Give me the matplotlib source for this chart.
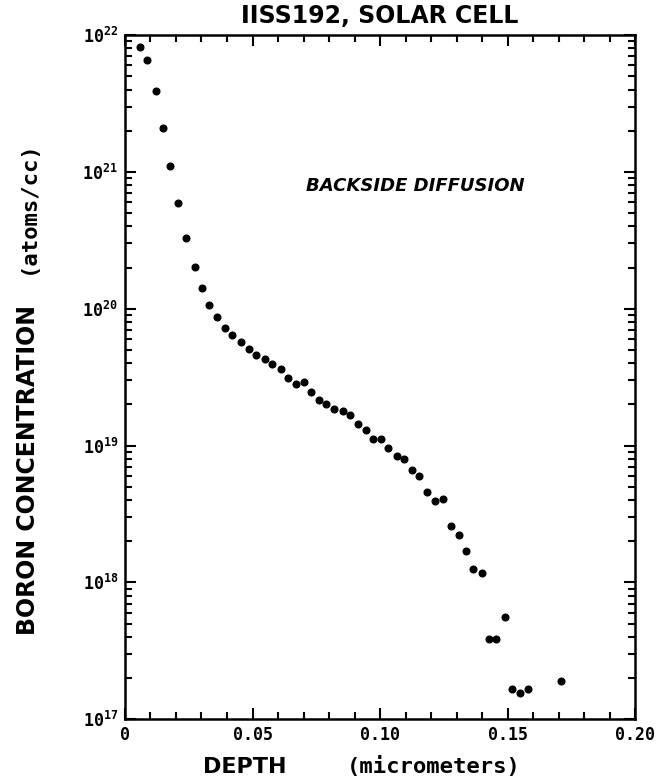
import numpy as np
import matplotlib
matplotlib.use('Agg')
import matplotlib.pyplot as plt
from matplotlib.ticker import LogLocator, MultipleLocator, FixedLocator, NullFormatter

# depth (micrometers) and log10 boron concentration (atoms/cc)
depth = [0.0059, 0.0088, 0.0120, 0.0149, 0.0178, 0.0207, 0.0239, 0.0275, 0.0302, 0.0329,
         0.0360, 0.0393, 0.0421, 0.0456, 0.0485, 0.0515, 0.0548, 0.0578, 0.0611, 0.0640,
         0.0671, 0.0702, 0.0731, 0.0760, 0.0789, 0.0821, 0.0854, 0.0884, 0.0914, 0.0946,
         0.0974, 0.1004, 0.1033, 0.1066, 0.1095, 0.1124, 0.1154, 0.1186, 0.1216, 0.1247,
         0.1280, 0.1309, 0.1337, 0.1366, 0.1399, 0.1426, 0.1456, 0.1491, 0.1518, 0.1550,
         0.1579, 0.1711]
log_conc = [21.914, 21.817, 21.591, 21.322, 21.040, 20.772, 20.514, 20.306, 20.153, 20.026,
            19.939, 19.858, 19.807, 19.754, 19.705, 19.663, 19.632, 19.593, 19.558, 19.490,
            19.447, 19.461, 19.393, 19.332, 19.303, 19.264, 19.254, 19.224, 19.154, 19.114,
            19.049, 19.047, 18.980, 18.925, 18.903, 18.818, 18.776, 18.659, 18.594, 18.606,
            18.413, 18.343, 18.228, 18.100, 18.065, 17.587, 17.587, 17.746, 17.224, 17.188,
            17.222, 17.276]

x_ticks = [0, 0.05, 0.10, 0.15, 0.20]
x_labels = ['0', '0.05', '0.10', '0.15', '0.20']
y_ticks = [1e17, 1e18, 1e19, 1e20, 1e21, 1e22]
y_labels = ['$\\mathregular{10^{17}}$', '$\\mathregular{10^{18}}$', '$\\mathregular{10^{19}}$',
            '$\\mathregular{10^{20}}$', '$\\mathregular{10^{21}}$', '$\\mathregular{10^{22}}$']

conc = 10 ** np.array(log_conc)

fig = plt.figure(figsize=(6.72, 7.8), dpi=100)
ax = fig.add_axes([0.186, 0.078, 0.759, 0.877])
ax.plot(depth, conc, 'o', color='black', markersize=4.8)

ax.set_yscale('log')
ax.set_xlim(0, 0.20)
ax.set_ylim(1e17, 1e22)

ax.xaxis.set_major_locator(FixedLocator(x_ticks))
ax.xaxis.set_minor_locator(MultipleLocator(0.01))
ax.set_xticks(x_ticks)
ax.set_xticklabels(x_labels, family='DejaVu Sans Mono', fontweight='bold', fontsize=12)
ax.yaxis.set_major_locator(FixedLocator(y_ticks))
ax.yaxis.set_minor_locator(LogLocator(base=10, subs=np.arange(2, 10)))
ax.yaxis.set_minor_formatter(NullFormatter())
ax.set_yticks(y_ticks)
ax.set_yticklabels(y_labels, family='DejaVu Sans Mono', fontweight='bold', fontsize=12)

ax.tick_params(which='both', direction='in', top=True, right=True, width=1.5)
ax.tick_params(which='major', length=8, pad=5)
ax.tick_params(which='minor', length=5)
for s in ax.spines.values():
    s.set_linewidth(1.8)

fig.text(380 / 672, 1 - 16 / 780, 'IISS192, SOLAR CELL', ha='center', va='center',
         fontsize=17, fontweight='bold')
ax.text(0.57, 0.779, 'BACKSIDE DIFFUSION', transform=ax.transAxes, ha='center', va='center',
        fontsize=13, style='italic', fontweight='bold')

fig.text(245 / 672, 1 - 767 / 780, 'DEPTH', ha='center', va='center', fontsize=16,
         fontweight='bold')
fig.text(434 / 672, 1 - 767 / 780, '(micrometers)', ha='center', va='center',
         fontsize=16, family='DejaVu Sans Mono', fontweight='bold')
fig.text(28 / 672, 1 - 470 / 780, 'BORON CONCENTRATION', rotation=90, ha='center', va='center',
         fontsize=17, fontweight='bold')
fig.text(28 / 672, 1 - 207 / 780, '(atoms/cc)', rotation=90, ha='center', va='center',
         fontsize=16, family='DejaVu Sans Mono', fontweight='bold')

fig.savefig('out.png', dpi=100)
